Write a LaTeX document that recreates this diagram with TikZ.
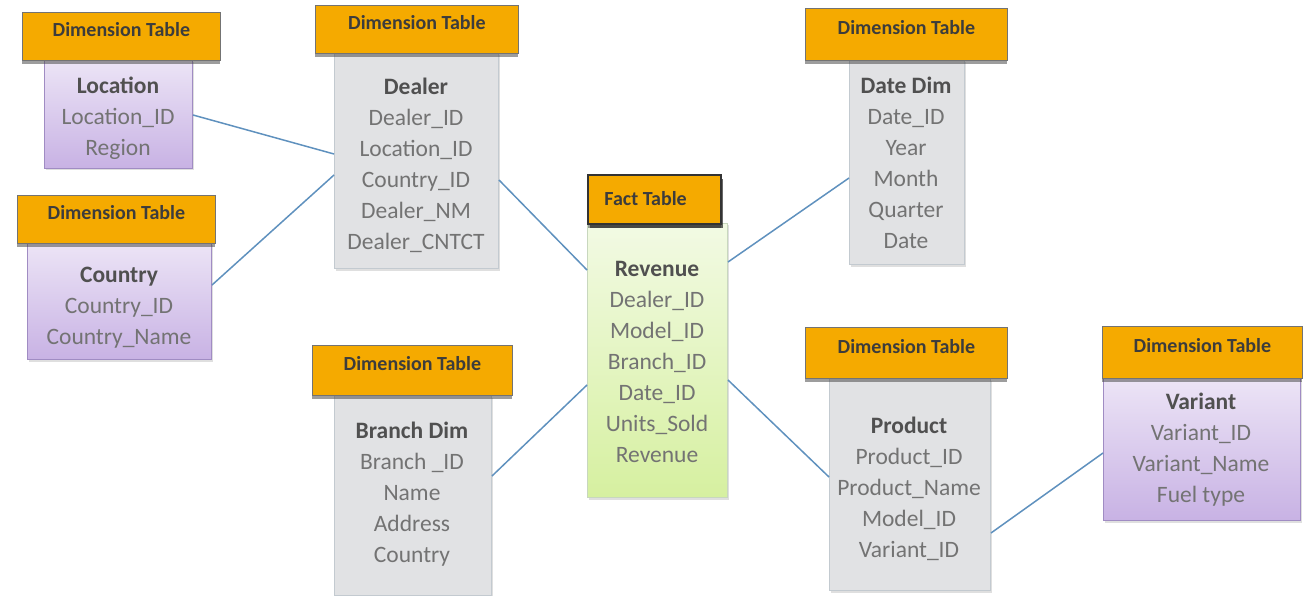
\documentclass[tikz,border=0pt]{standalone}
\usepackage{fontspec}
\setmainfont{Carlito}
\usetikzlibrary{shadows}
\definecolor{hdrorange}{RGB}{245,170,0}
\definecolor{hdrtext}{RGB}{60,60,60}
\definecolor{rowtext}{RGB}{115,115,115}
\definecolor{titletext}{RGB}{80,80,80}
\definecolor{greybody}{RGB}{225,226,228}
\definecolor{greyedge}{RGB}{195,202,208}
\definecolor{purptop}{RGB}{236,228,246}
\definecolor{purpbot}{RGB}{200,178,228}
\definecolor{purpedge}{RGB}{160,140,195}
\definecolor{greentop}{RGB}{242,250,228}
\definecolor{greenbot}{RGB}{214,240,160}
\definecolor{greenedge}{RGB}{200,215,190}
\definecolor{linkblue}{RGB}{95,145,190}
\tikzset{
  hdr/.style={anchor=north west, inner sep=0pt, fill=hdrorange,
    draw=black!55, line width=0.8pt, text height=13pt, text depth=12pt,
    drop shadow={shadow xshift=0pt, shadow yshift=-4pt, fill=black!70, opacity=0.55},
    font=\fontsize{20}{22}\selectfont\bfseries, text=hdrtext},
  facthdr/.style={hdr, draw=black!80, line width=2.2pt, text depth=1pt,
    drop shadow={shadow xshift=2pt, shadow yshift=-4pt, fill=black!85, opacity=0.7}},
  greytab/.style={anchor=north west, inner sep=0pt, fill=greybody, draw=greyedge, line width=1pt,
    drop shadow={shadow xshift=1pt, shadow yshift=-2pt, fill=black!25, opacity=0.5}},
  purptab/.style={anchor=north west, inner sep=0pt, top color=purptop, bottom color=purpbot,
    draw=purpedge, line width=1pt,
    drop shadow={shadow xshift=1pt, shadow yshift=-2pt, fill=black!25, opacity=0.5}},
  greentab/.style={anchor=north west, inner sep=0pt, top color=greentop, bottom color=greenbot,
    draw=greenedge, line width=1pt,
    drop shadow={shadow xshift=1pt, shadow yshift=-2pt, fill=black!25, opacity=0.5}},
  rows/.style={inner sep=0pt, align=center, text=rowtext,
    font=\fontsize{23.5}{31}\selectfont},
  link/.style={draw=linkblue, line width=1.5pt}
}
\newcommand\tabtitle[1]{{\color{titletext}\bfseries #1}}
\begin{document}
\begin{tikzpicture}[x=1pt,y=-1pt]
\useasboundingbox (0,0) rectangle (1304,596);

% Location
\node[purptab, minimum width=148pt, minimum height=108pt] (loc) at (44,60) {};
\node[hdr, minimum width=198pt, minimum height=48pt] (locH) at (22,12) {Dimension Table};
\node[rows] (locT) at (118,118) {\tabtitle{Location}\\Location\_ID\\Region};

% Country
\node[purptab, minimum width=184pt, minimum height=116pt] (cty) at (27,243) {};
\node[hdr, minimum width=198pt, minimum height=48pt] (ctyH) at (17,195) {Dimension Table};
\node[rows] (ctyT) at (119,308) {\tabtitle{Country}\\Country\_ID\\Country\_Name};

% Dealer
\node[greytab, minimum width=164pt, minimum height=215pt] (dlr) at (334,53) {};
\node[hdr, minimum width=203pt, minimum height=48pt] (dlrH) at (315,5) {Dimension Table};
\node[rows] (dlrT) at (416,165) {\tabtitle{Dealer}\\Dealer\_ID\\Location\_ID\\Country\_ID\\Dealer\_NM\\Dealer\_CNTCT};

% Revenue (fact)
\node[greentab, minimum width=140pt, minimum height=274pt] (fct) at (587,223) {};
\node[facthdr, minimum width=133pt, minimum height=49pt] (fctH) at (587,174) {\hspace*{-18pt}Fact Table};
\node[rows] (fctT) at (657,362) {\tabtitle{Revenue}\\Dealer\_ID\\Model\_ID\\Branch\_ID\\Date\_ID\\Units\_Sold\\Revenue};

% Date Dim
\node[greytab, minimum width=115pt, minimum height=204pt] (dat) at (849,60) {};
\node[hdr, minimum width=202pt, minimum height=52pt] (datH) at (805,8) {Dimension Table};
\node[rows] (datT) at (906,163) {\tabtitle{Date Dim}\\Date\_ID\\Year\\Month\\Quarter\\Date};

% Branch Dim
\node[greytab, minimum width=157pt, minimum height=200pt] (brn) at (334,395) {};
\node[hdr, minimum width=200pt, minimum height=50pt] (brnH) at (312,345) {Dimension Table};
\node[rows] (brnT) at (412,494) {\tabtitle{Branch Dim}\\Branch \_ID\\Name\\Address\\Country};

% Product
\node[greytab, minimum width=161pt, minimum height=212pt] (prd) at (829,378) {};
\node[hdr, minimum width=202pt, minimum height=51pt] (prdH) at (805,327) {Dimension Table};
\node[rows] (prdT) at (909,489) {\tabtitle{Product}\\Product\_ID\\Product\_Name\\Model\_ID\\Variant\_ID};

% Variant
\node[purptab, minimum width=197pt, minimum height=142pt] (var) at (1103,378) {};
\node[hdr, minimum width=200pt, minimum height=52pt] (varH) at (1102,326) {Dimension Table};
\node[rows] (varT) at (1201,450) {\tabtitle{Variant}\\Variant\_ID\\Variant\_Name\\Fuel type};

% Relationships
\draw[link] (loc.east |- 0,115) -- (dlr.west |- 0,154);
\draw[link] (cty.east |- 0,285) -- (dlr.west |- 0,175);
\draw[link] (dlr.east |- 0,180) -- (fct.west |- 0,270);
\draw[link] (dat.west |- 0,178) -- (fct.east |- 0,262);
\draw[link] (brn.east |- 0,476) -- (fct.west |- 0,385);
\draw[link] (fct.east |- 0,380) -- (prd.west |- 0,477);
\draw[link] (prd.east |- 0,533) -- (var.west |- 0,453);
\end{tikzpicture}
\end{document}
